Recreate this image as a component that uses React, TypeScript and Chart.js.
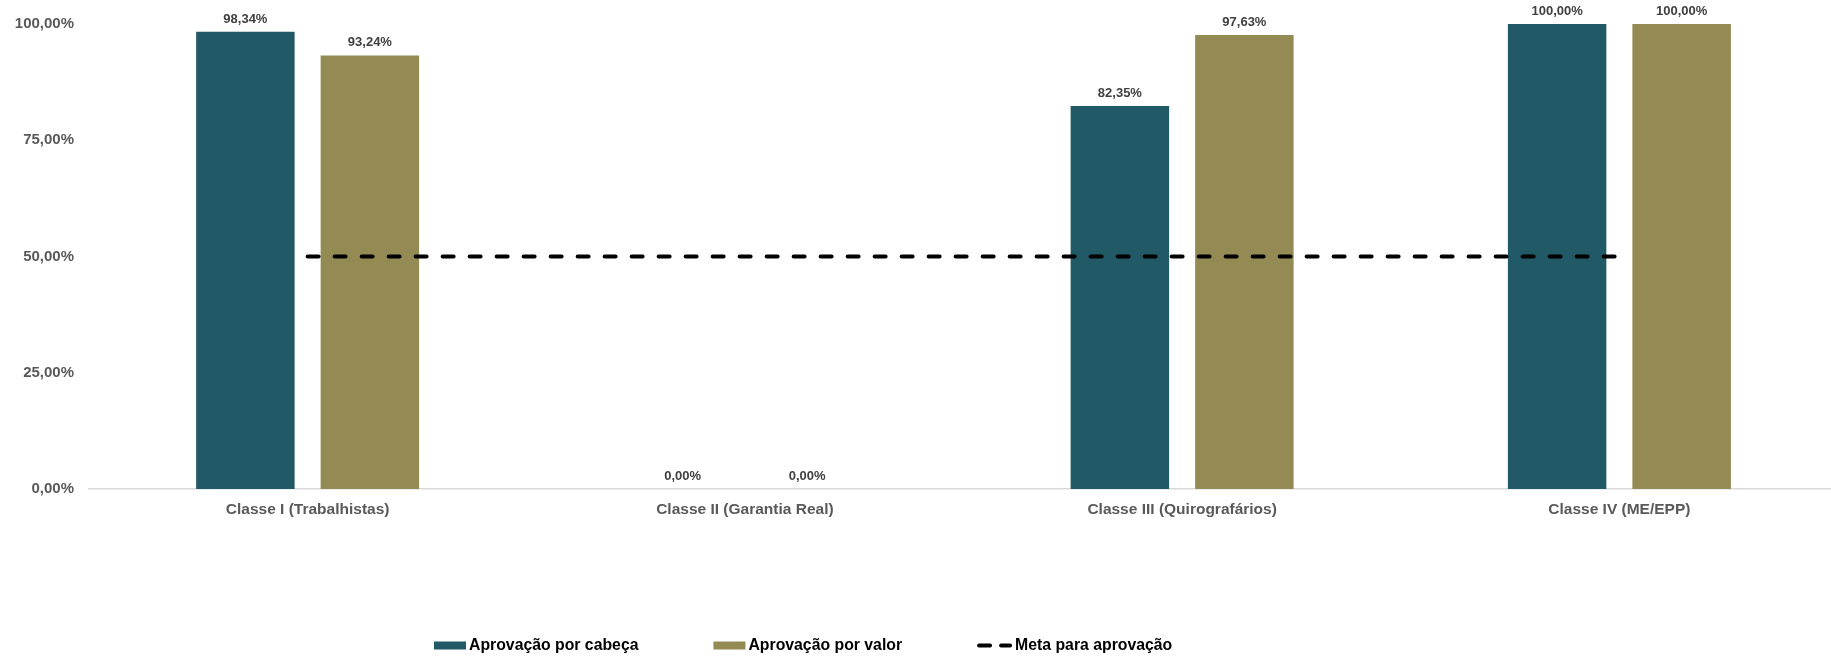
import React, { useEffect, useRef } from "react";
import { Chart, registerables } from "chart.js";

Chart.register(...registerables);

const categories = [
  "Classe I (Trabalhistas)",
  "Classe II (Garantia Real)",
  "Classe III (Quirografários)",
  "Classe IV (ME/EPP)",
];
const aprovacaoCabeca = [98.34, 0, 82.35, 100];
const aprovacaoValor = [93.24, 0, 97.63, 100];
const metaAprovacao = [50, 50, 50, 50];
const yTicks = [0, 25, 50, 75, 100];
const seriesNames = ["Aprovação por cabeça", "Aprovação por valor", "Meta para aprovação"];

const FONT = "'Liberation Sans', Arial, sans-serif";
const TEAL = "#215967";
const OLIVE = "#948A54";

const fmt = (v: number) => v.toFixed(2).replace(".", ",") + "%";

const dataLabelPlugin = {
  id: "dataLabels",
  afterDatasetsDraw(chart: any) {
    const ctx = chart.ctx;
    ctx.save();
    ctx.font = `bold 13px ${FONT}`;
    ctx.fillStyle = "#404040";
    ctx.textAlign = "center";
    ctx.textBaseline = "alphabetic";
    chart.data.datasets.forEach((ds: any, di: number) => {
      if (ds.type !== "bar") return;
      const meta = chart.getDatasetMeta(di);
      meta.data.forEach((el: any, i: number) => {
        ctx.fillText(fmt(ds.data[i]), el.x, el.y - 9);
      });
    });
    ctx.restore();
  },
};

const legendPlugin = {
  id: "customLegend",
  afterDraw(chart: any) {
    const ctx = chart.ctx;
    ctx.save();
    ctx.font = `bold 15.8px ${FONT}`;
    ctx.textBaseline = "middle";
    ctx.textAlign = "left";
    const cy = 645.5;
    let x = 434;
    const items = [...chart.data.datasets].sort(
      (a: any, b: any) => (a.type === "bar" ? 0 : 1) - (b.type === "bar" ? 0 : 1)
    );
    items.forEach((ds: any) => {
      if (ds.type === "bar") {
        ctx.fillStyle = ds.backgroundColor;
        ctx.fillRect(x, cy - 4, 32, 8);
        x += 35;
      } else {
        ctx.strokeStyle = "#000";
        ctx.lineWidth = 4;
        ctx.lineCap = "round";
        ctx.beginPath();
        ctx.moveTo(x + 2, cy);
        ctx.lineTo(x + 13, cy);
        ctx.moveTo(x + 24, cy);
        ctx.lineTo(x + 33, cy);
        ctx.stroke();
        x += 38;
      }
      ctx.fillStyle = "#000";
      ctx.fillText(ds.label, x, cy);
      x += ctx.measureText(ds.label).width + 75;
    });
    ctx.restore();
  },
};

export default function App() {
  const ref = useRef<HTMLCanvasElement | null>(null);

  useEffect(() => {
    if (!ref.current) return;
    const chart = new Chart(ref.current, {
      type: "bar",
      data: {
        labels: categories,
        datasets: [
          {
            type: "bar",
            label: seriesNames[0],
            data: aprovacaoCabeca,
            backgroundColor: TEAL,
            categoryPercentage: 0.5695,
            barPercentage: 0.791,
            order: 1,
          },
          {
            type: "bar",
            label: seriesNames[1],
            data: aprovacaoValor,
            backgroundColor: OLIVE,
            categoryPercentage: 0.5695,
            barPercentage: 0.791,
            order: 1,
          },
          {
            type: "line",
            label: seriesNames[2],
            data: metaAprovacao,
            borderColor: "#000",
            borderWidth: 4,
            borderDash: [11, 16],
            borderCapStyle: "round",
            pointRadius: 0,
            fill: false,
            order: 0,
          } as any,
        ],
      },
      options: {
        responsive: false,
        animation: false,
        devicePixelRatio: 1,
        layout: { padding: { top: 22, right: 0, left: 0, bottom: 0 } },
        plugins: {
          legend: { display: false },
          tooltip: { enabled: false },
        },
        scales: {
          x: {
            grid: { display: false, drawTicks: false },
            border: { display: true, color: "#D9D9D9", width: 1.5 },
            ticks: {
              color: "#595959",
              font: { family: FONT, size: 15.5, weight: "bold" },
              padding: 11,
              maxRotation: 0,
              autoSkip: false,
            },
            afterFit: (s: any) => {
              s.height = 170;
            },
          },
          y: {
            min: 0,
            max: 100,
            afterBuildTicks: (s: any) => {
              s.ticks = yTicks.map((v) => ({ value: v }));
            },
            grid: { display: false, drawTicks: false },
            border: { display: false },
            ticks: {
              color: "#595959",
              font: { family: FONT, size: 15, weight: "bold" },
              padding: 15,
              callback: (v: any) => fmt(Number(v)),
            },
            afterFit: (s: any) => {
              s.width = 89;
            },
          },
        },
      } as any,
      plugins: [dataLabelPlugin, legendPlugin],
    });
    return () => chart.destroy();
  }, []);

  return (
    <div
      style={{
        position: "absolute",
        left: 0,
        top: 0,
        width: 1831,
        height: 659,
        overflow: "hidden",
        background: "#fff",
      }}
    >
      <canvas ref={ref} width={1838} height={659} style={{ display: "block" }} />
    </div>
  );
}
